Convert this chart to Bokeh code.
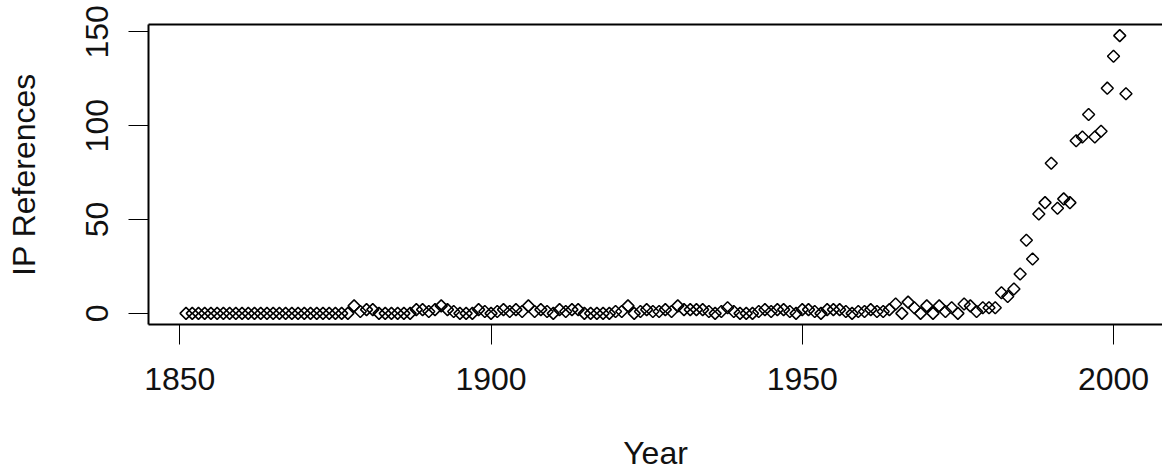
import numpy as np
from bokeh.plotting import figure
from bokeh.models import LinearAxis, FixedTicker, Range1d
from bokeh.embed import file_html
from bokeh.resources import INLINE

# ---- data ----
years = list(range(1851, 2003))
refs = (
    [0] * 27                                   # 1851-1877
    + [4, 1, 2, 2, 0, 0, 0, 0, 0, 0,           # 1878-1887
       2, 2, 1, 2, 4, 2, 1, 0, 0, 0,           # 1888-1897
       2, 1, 0,                                # 1898-1900
       1, 2, 1, 2, 1, 4, 1, 2, 1, 0,           # 1901-1910
       2, 1, 2, 2, 0, 0, 0, 0, 0, 1,           # 1911-1920
       1, 4, 0, 1, 2, 1, 1, 2, 1, 4,           # 1921-1930
       2, 2, 2, 2, 1, 0, 1, 3, 1, 0,           # 1931-1940
       0, 0, 1, 2, 1, 2, 2, 1, 0, 2,           # 1941-1950
       2, 1, 0, 2, 2, 2, 1, 0, 1, 1,           # 1951-1960
       2, 1, 1, 2, 5, 0, 6, 3, 0, 4,           # 1961-1970
       0, 4, 1, 3, 0, 5, 4, 1, 3, 3,           # 1971-1980
       3, 11, 9, 13, 21, 39, 29, 53, 59, 80,   # 1981-1990
       56, 61, 59, 92, 94, 106, 94, 97, 120, 137,  # 1991-2000
       148, 117]                               # 2001-2002
)
x_ticks = [1850, 1900, 1950, 2000]
y_ticks = [0, 50, 100, 150]
x_label = "Year"
y_label = "IP References"

FONT = "Liberation Sans"
FS = "32px"

p = figure(
    width=1162, height=473,
    output_backend="svg", toolbar_location=None,
    x_range=Range1d(1844.97, 2007.87),
    y_range=Range1d(-5.92, 153.92),
    min_border_left=148, min_border_top=24,
    min_border_right=0, min_border_bottom=0,
    background_fill_color="white", border_fill_color="white",
)
p.outline_line_color = None
p.xgrid.visible = False
p.ygrid.visible = False

p.scatter(years, refs, marker="square", angle=np.pi / 4, size=8.5,
          fill_color=None, line_color="black", line_width=1.5)

for ax in (p.xaxis[0], p.yaxis[0]):
    ax.major_tick_in = 0
    ax.major_tick_out = 20
    ax.minor_tick_in = 0
    ax.minor_tick_out = 0
    ax.major_tick_line_color = "black"
    ax.major_tick_line_width = 1
    ax.axis_line_color = "black"
    ax.axis_line_width = 2
    ax.major_label_text_font = FONT
    ax.major_label_text_font_size = FS
    ax.major_label_text_color = "#111111"
    ax.axis_label_text_font = FONT
    ax.axis_label_text_font_size = FS
    ax.axis_label_text_font_style = "normal"
    ax.axis_label_text_color = "#111111"

p.xaxis[0].ticker = FixedTicker(ticks=x_ticks)
p.yaxis[0].ticker = FixedTicker(ticks=y_ticks)
p.xaxis[0].axis_label = x_label
p.yaxis[0].axis_label = y_label
p.yaxis[0].major_label_orientation = "parallel"

p.xaxis[0].major_label_standoff = 23
p.xaxis[0].axis_label_standoff = 42
p.yaxis[0].major_label_standoff = 20
p.yaxis[0].axis_label_standoff = 42

top = LinearAxis(ticker=FixedTicker(ticks=[]), major_label_text_font_size="0px",
                 major_tick_in=0, major_tick_out=0, minor_tick_in=0, minor_tick_out=0,
                 axis_line_color="black", axis_line_width=2)
p.add_layout(top, "above")

open("out.html", "w").write(file_html(p, INLINE))
